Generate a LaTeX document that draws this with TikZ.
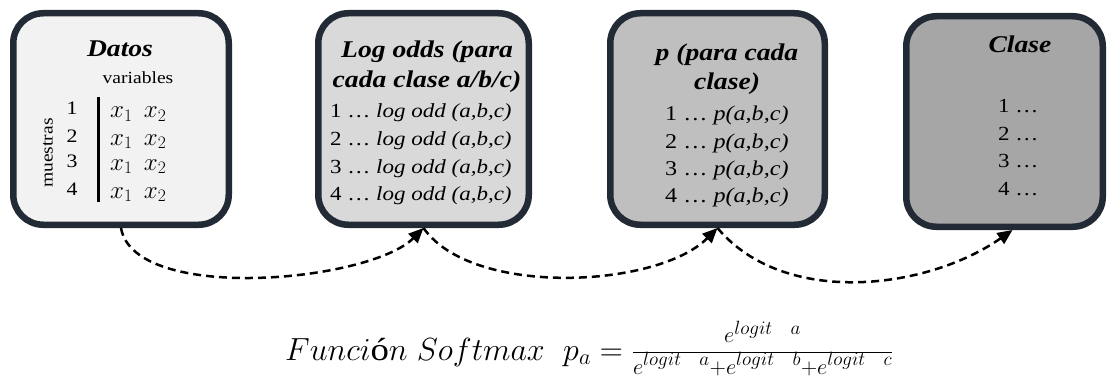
\documentclass[tikz,border=0pt]{standalone}
\usepackage{fix-cm}
\usepackage{fontspec}
\setmainfont{Liberation Serif}[FakeStretch=1.15]
\usetikzlibrary{arrows.meta}
\renewcommand{\defaultscriptscriptratio}{.6}

\definecolor{borde}{HTML}{222A35}
\definecolor{gris1}{HTML}{F2F2F2}
\definecolor{gris2}{HTML}{D9D9D9}
\definecolor{gris3}{HTML}{BFBFBF}
\definecolor{gris4}{HTML}{A6A6A6}

\tikzset{
  caja/.style={draw=borde, line width=6.5pt, rounded corners=30pt, inner sep=0pt},
  titulo/.style={font=\fontsize{24}{29}\selectfont\bfseries\itshape, align=center, inner sep=0pt, anchor=base},
  fila/.style={inner sep=0pt, anchor=base west},
  flecha/.style={->, dash pattern=on 8pt off 5pt, line width=2.5pt},
}

\begin{document}
\begin{tikzpicture}[x=1pt, y=1pt, >={Triangle[length=15pt,width=13pt]}]
    \useasboundingbox (0,0) rectangle (1108,381);

    % las cuatro cajas
    \node[caja, fill=gris1, minimum width=215.5pt, minimum height=211.5pt] (datos) at (121,262) {};
    \node[caja, fill=gris2, minimum width=210.5pt, minimum height=211.5pt] (logodds) at (423.5,262) {};
    \node[caja, fill=gris3, minimum width=214.5pt, minimum height=211.5pt] (prob) at (717.5,262) {};
    \node[caja, fill=gris4, minimum width=196.5pt, minimum height=210.5pt] (clase) at (1004.5,259.5) {};

    % Datos
    \node[titulo] (tdatos) at (120,324) {Datos};
    \node[inner sep=0pt, anchor=base, font=\fontsize{17}{20}\selectfont] (vars) at (138,297) {variables};
    \node[inner sep=0pt, rotate=90, font=\fontsize{17}{20}\selectfont] (muestras) at (48,228) {muestras};
    \foreach \i/\yy in {1/266,2/239,3/214,4/186}{
        \node[inner sep=0pt, anchor=base, font=\fontsize{19}{22}\selectfont] (dn\i) at (72,\yy) {\i};
        \node[fila, font=\fontsize{25}{28}\selectfont] (dx\i) at (110,\yy-3) {$x_1\ \,x_2$};
    }
    \draw[line width=3pt] (98,284) -- (98,179);

    % Log odds
    \node[titulo] (tlog) at (427,294) {Log odds (para\\cada clase a/b/c)};
    \foreach \i/\yy in {1/264,2/236,3/208,4/181}
        \node[fila, font=\fontsize{20}{24}\selectfont] (lo\i) at (330,\yy) {\i\ … \textit{log odd (a,b,c)}};

    % p
    \node[titulo] (tprob) at (727,291) {p (para cada\\clase)};
    \foreach \i/\yy in {1/261,2/233,3/206,4/179}
        \node[fila, font=\fontsize{21}{24}\selectfont] (pr\i) at (665,\yy) {\i\ … \textit{p(a,b,c)}};

    % Clase
    \node[titulo] (tclase) at (1020,328) {Clase};
    \foreach \i/\yy in {1/269,2/241,3/214,4/186}
        \node[fila, font=\fontsize{20}{24}\selectfont] (cl\i) at (998,\yy) {\i\ …};

    % flechas
    \draw[flecha] (datos.south) to[out=-80, in=-135, looseness=0.65] (logodds.south);
    \draw[flecha] (logodds.south) to[out=-55, in=-135, looseness=0.74] (prob.south);
    \draw[flecha] (prob.south) to[out=-50, in=-145, looseness=0.9] ([xshift=8pt]clase.south);

    % formula
    \node[inner sep=0pt, anchor=base west, font=\fontsize{32}{38}\selectfont] (softmax) at (285,21)
        {$Funci\mbox{ó}n\ Softmax\ \ p_a=\frac{\scriptstyle e^{logit\ \ a}\rule[-9pt]{0pt}{9pt}}{\scriptstyle \rule{0pt}{21pt}e^{logit\ \ a}+e^{logit\ \ b}+e^{logit\ \ c}}$};
\end{tikzpicture}
\end{document}
